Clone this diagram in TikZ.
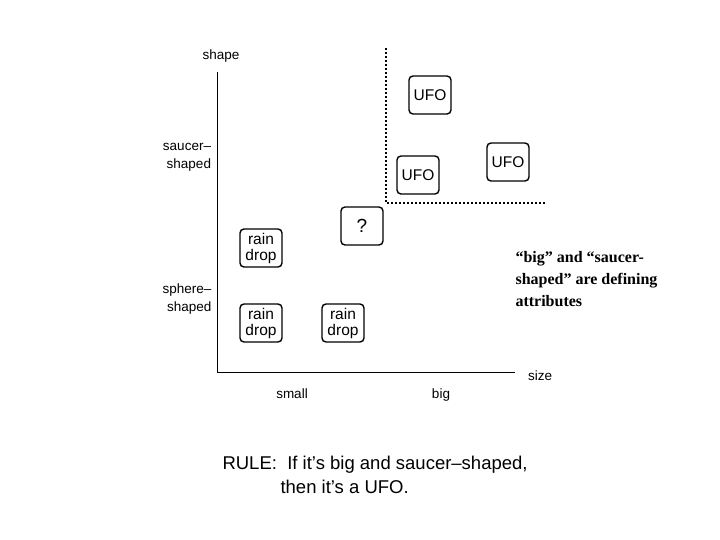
\documentclass[tikz,border=0pt]{standalone}
\usepackage{fontspec}
\setmainfont{Liberation Sans}
\newfontfamily\notefont{Liberation Serif}
\usepackage{tikz}
\usetikzlibrary{positioning}

\begin{document}
\begin{tikzpicture}[
x=1pt, y=-1pt,
every node/.style={font=\fontsize{13.5}{15}\selectfont},
item/.style={draw, line width=1.4pt, rounded corners=4pt, minimum width=42pt, minimum height=38pt, align=center, inner sep=2pt, font=\fontsize{15.5}{16}\selectfont},
axislabel/.style={align=right, font=\fontsize{13.5}{18}\selectfont}
]
\useasboundingbox (0,0) rectangle (720,540);

% axes
\coordinate (origin) at (217,372);
\coordinate (ytop) at (217,72);
\coordinate (xend) at (515,372);
\draw[line width=0.9pt] (ytop) -- (origin) -- (xend);

\node (shape) [anchor=base] at (221,60) {shape};
\node (size) [anchor=base] at (540,380) {size};
\node (small) [anchor=base] at (292,398) {small};
\node (big) [anchor=base] at (441,398) {big};
\node (saucer) [axislabel] at (187,157) {saucer–\\shaped};
\node (sphere) [axislabel] at (187,299) {sphere–\\shaped};

% region of big, saucer-shaped things
\coordinate (dtop) at (386,48);
\coordinate (dcorner) at (386,203);
\coordinate (dend) at (545,203);
\draw[line width=1.3pt, dash pattern=on 2pt off 2pt] (dtop) -- (dcorner) -- (dend);

\node (ufo1) [item] at (430,95) {UFO};
\node (ufo2) [item] at (418,175) {UFO};
\node (ufo3) [item] at (508,162) {UFO};
\node (query) [item, font=\fontsize{19}{19}\selectfont] at (362,226) {?};

\node (rain1) [item] at (261,248) {rain\\drop};
\node (rain2) [item] at (261,323) {rain\\drop};
\node (rain3) [item] at (343,323) {rain\\drop};

\node (note) [anchor=north west, align=left, font=\notefont\bfseries\fontsize{16}{22}\selectfont] at (512,248) {“big” and “saucer-\\shaped” are defining\\attributes};

\node (rule) [anchor=north west, align=left, font=\fontsize{18.5}{24}\selectfont] at (219,453) {RULE:\ \ If it's big and saucer–shaped,\\\hspace*{58pt}then it's a UFO.};

\end{tikzpicture}
\end{document}
